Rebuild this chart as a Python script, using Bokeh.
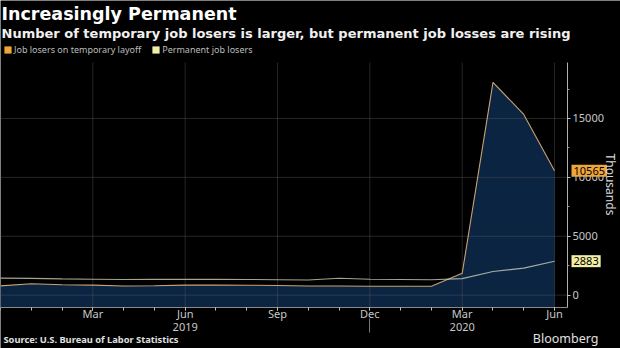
from bokeh.plotting import figure
from bokeh.models import (Range1d, LinearAxis, FixedTicker, Label, Legend, LegendItem)
from bokeh.embed import file_html
from bokeh.resources import INLINE

# ---------------- data (thousands) ----------------
months = ["Dec 2018", "Jan 2019", "Feb 2019", "Mar 2019", "Apr 2019", "May 2019",
          "Jun 2019", "Jul 2019", "Aug 2019", "Sep 2019", "Oct 2019", "Nov 2019",
          "Dec 2019", "Jan 2020", "Feb 2020", "Mar 2020", "Apr 2020", "May 2020",
          "Jun 2020"]
month_idx = list(range(len(months)))
temporary_layoff = [790, 960, 880, 850, 780, 800, 850, 850, 840, 820, 780, 770,
                    760, 760, 760, 1848, 18063, 15343, 10565]
permanent_losers = [1440, 1420, 1380, 1350, 1330, 1340, 1340, 1340, 1330, 1300,
                    1280, 1430, 1350, 1330, 1300, 1400, 2002, 2295, 2883]

x_tick_pos = [3, 6, 9, 12, 15, 18]
x_tick_labels = ["Mar", "Jun", "Sep", "Dec", "Mar", "Jun"]
year_pos = [6, 15]
year_labels = ["2019", "2020"]
year_sep = [12]
y_ticks = [0, 5000, 10000, 15000]
y_minor = [2500, 7500, 12500, 17500]

series_names = ["Job losers on temporary layoff", "Permanent job losers"]
series_colors = ["#f0a43c", "#f2eea6"]

FONT = "Noto Sans"
HEAD_FONT = "DejaVu Sans"
W, H = 620, 348
PLOT_TOP, PLOT_BOTTOM, PLOT_RIGHT = 62, 307, 567   # pixel edges of the plotting area
PX_PER_MONTH = 30.78
X_END = PLOT_RIGHT / PX_PER_MONTH
Y_START, Y_END = -1050, 19750
UNITS_PER_PX = (Y_END - Y_START) / (PLOT_BOTTOM - PLOT_TOP)
NAN = float("nan")

# the frame covers the whole canvas; the plotting area is a sub-region of it
p = figure(width=W, height=H, output_backend="svg", toolbar_location=None,
           x_range=Range1d(0, W / PX_PER_MONTH),
           y_range=Range1d(Y_START - (H - PLOT_BOTTOM) * UNITS_PER_PX,
                           Y_END + PLOT_TOP * UNITS_PER_PX),
           x_axis_location=None, y_axis_location=None,
           background_fill_color="black", border_fill_color="black",
           min_border=0, min_border_left=0, min_border_right=0, min_border_top=0,
           min_border_bottom=0)
p.outline_line_color = None
p.grid.visible = False

n_x, n_y = len(x_tick_pos), len(y_ticks)

# area
p.varea(x=month_idx, y1=[Y_START] * len(month_idx), y2=temporary_layoff, fill_color="#0b2442")

# grid lines (restricted to the plotting area)
p.segment(x0=x_tick_pos, x1=x_tick_pos, y0=[Y_START] * n_x, y1=[Y_END] * n_x,
          line_color="#606060", line_alpha=0.4, line_width=1)
p.segment(x0=[0] * n_y, x1=[X_END] * n_y, y0=y_ticks, y1=y_ticks,
          line_color="#606060", line_alpha=0.4, line_width=1)

# lines
p.line(month_idx, temporary_layoff, line_color="#c9a270", line_width=1.1)
p.line(month_idx, permanent_losers, line_color="#d8dcc0", line_alpha=0.75, line_width=1.1)

# axes (fixed to the plotting area's edges)
xax = LinearAxis(fixed_location=Y_START, bounds=(0, X_END),
                 ticker=FixedTicker(ticks=x_tick_pos, minor_ticks=month_idx),
                 major_label_overrides={t: l for t, l in zip(x_tick_pos, x_tick_labels)},
                 axis_line_color="#8a8a8a", major_tick_line_color="#c0c0c0",
                 minor_tick_line_color="#c0c0c0", major_tick_in=0, major_tick_out=3,
                 minor_tick_in=0, minor_tick_out=3, major_label_standoff=-5,
                 major_label_text_color="#c8c8c8", major_label_text_font_size="11px",
                 major_label_text_font=FONT)
p.add_layout(xax, "below")

year_ax = LinearAxis(fixed_location=Y_START, ticker=FixedTicker(ticks=year_pos),
                     major_label_overrides={t: l for t, l in zip(year_pos, year_labels)},
                     axis_line_color=None, major_tick_line_color=None,
                     major_tick_in=0, major_tick_out=0, major_label_standoff=15,
                     minor_tick_line_color=None,
                     major_label_text_color="#c8c8c8", major_label_text_font_size="11px",
                     major_label_text_font=FONT)
p.add_layout(year_ax, "below")

sep_ax = LinearAxis(fixed_location=Y_START, ticker=FixedTicker(ticks=year_sep),
                    major_label_overrides={t: "" for t in year_sep},
                    axis_line_color=None, major_tick_line_color="#777777",
                    major_tick_in=-11, major_tick_out=25, minor_tick_line_color=None)
p.add_layout(sep_ax, "below")

yax = LinearAxis(fixed_location=X_END, bounds=(Y_START, Y_END),
                 ticker=FixedTicker(ticks=y_ticks, minor_ticks=y_minor),
                 axis_line_color="#b0b0b0", major_tick_line_color="#c0c0c0",
                 minor_tick_line_color="#909090", major_tick_in=0, major_tick_out=3,
                 minor_tick_in=0, minor_tick_out=2, major_label_standoff=2,
                 major_label_text_color="#c8c8c8", major_label_text_font_size="11px",
                 major_label_text_font=FONT)
p.add_layout(yax, "right")

# legend via proxy renderers holding a single empty (NaN) row
r1 = p.quad(left=[NAN], right=[NAN], top=[NAN], bottom=[NAN],
            fill_color=series_colors[0], line_color=None)
r2 = p.quad(left=[NAN], right=[NAN], top=[NAN], bottom=[NAN],
            fill_color=series_colors[1], line_color=None)
legend = Legend(items=[LegendItem(label=series_names[0], renderers=[r1], index=0),
                       LegendItem(label=series_names[1], renderers=[r2], index=0)],
                orientation="horizontal", location=(3, 292),
                background_fill_alpha=0, border_line_color=None,
                label_text_color="#bdbdbd",
                label_text_font_size="9px", label_text_font=FONT,
                glyph_width=9, glyph_height=9, label_standoff=2, spacing=10,
                padding=0, margin=0, label_height=10)
p.add_layout(legend, "center")

# last-value tags
for val, col in [(temporary_layoff[-1], series_colors[0]), (permanent_losers[-1], series_colors[1])]:
    p.add_layout(Label(x=X_END, y=val, x_offset=4, text=str(val),
                       text_baseline="middle", text_align="left", text_color="black",
                       text_font_size="11px", text_font=FONT,
                       background_fill_color=col, padding=2))

# header / footer texts and unit label (screen units: from frame bottom-left)
p.add_layout(Label(x=1, y=H - 13, x_units="screen", y_units="screen",
                   text="Increasingly Permanent", text_color="white",
                   text_font_size="17.5px", text_font_style="bold", text_font=HEAD_FONT,
                   text_baseline="middle"))
p.add_layout(Label(x=1, y=H - 33, x_units="screen", y_units="screen",
                   text="Number of temporary job losers is larger, but permanent job losses are rising",
                   text_color="#f0f0f0", text_font_size="13px", text_font_style="bold",
                   text_font=HEAD_FONT, text_baseline="middle"))
p.add_layout(Label(x=3, y=H - 339, x_units="screen", y_units="screen",
                   text="Source: U.S. Bureau of Labor Statistics", text_color="#e0e0e0",
                   text_font_size="9.3px", text_font_style="bold", text_font=FONT,
                   text_baseline="middle"))
p.add_layout(Label(x=598, y=H - 338, x_units="screen", y_units="screen",
                   text="Bloomberg", text_color="#e0e0e0", text_align="right",
                   text_font_size="12.5px", text_font=FONT, text_baseline="middle"))
p.add_layout(Label(x=610, y=H - 184, x_units="screen", y_units="screen",
                   text="Thousands", text_color="#d8d8d8", angle=-90, angle_units="deg",
                   text_align="center", text_baseline="middle",
                   text_font_size="12px", text_font=FONT))

open("out.html", "w").write(file_html(p, INLINE))
